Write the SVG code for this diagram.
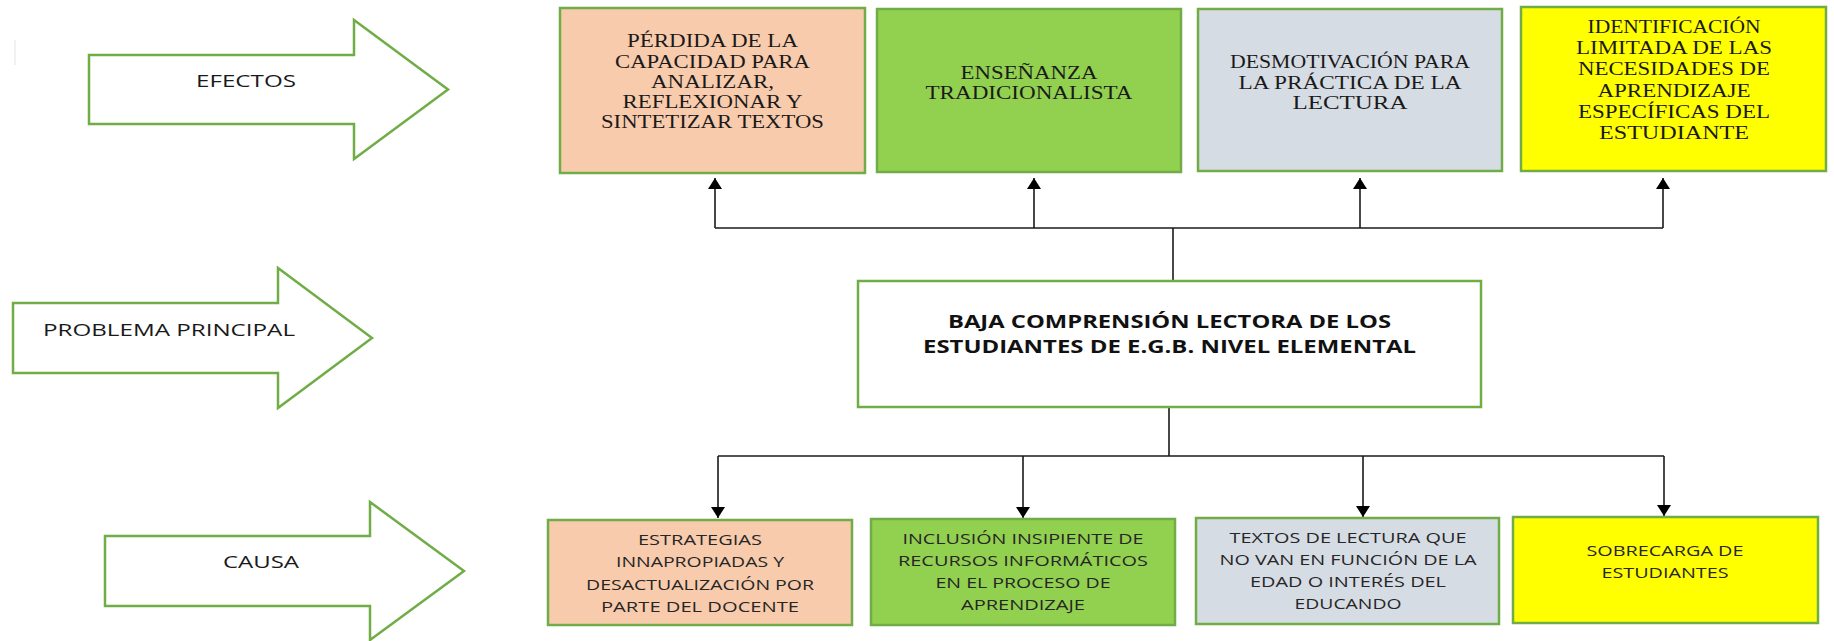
<svg xmlns="http://www.w3.org/2000/svg" width="1834" height="641" viewBox="0 0 1834 641">
<style>
.bg{fill:#ffffff}
.arr{fill:#ffffff;stroke:#70AD47;stroke-width:2.5;stroke-linejoin:miter}
.lbl{font-family:"Open Sans","Liberation Sans",sans-serif;font-size:16.5px;fill:#1a1a1a;text-anchor:middle}
.box{stroke:#70AD47;stroke-width:2.5}
.peach{fill:#F8CBAD}
.green{fill:#92D050}
.grey{fill:#D6DCE4}
.yellow{fill:#FFFF00}
.white{fill:#ffffff}
.ser{font-family:"Liberation Serif","Times New Roman",serif;font-size:18.5px;fill:#1a1a1a;text-anchor:middle}
.san{font-family:"Open Sans","Liberation Sans",sans-serif;font-size:14px;fill:#262626;text-anchor:middle}
.main{font-family:"Open Sans","Liberation Sans",sans-serif;font-size:17.5px;font-weight:bold;fill:#111111;text-anchor:middle}
.con{fill:none;stroke:#1a1a1a;stroke-width:1.6}
</style>
<defs>
<marker id="ah" markerUnits="userSpaceOnUse" viewBox="0 0 11 14" refX="11" refY="7" markerWidth="11" markerHeight="14" orient="auto">
<path d="M0,0 L11,7 L0,14 z" fill="#000000"/>
</marker>
</defs>
<rect class="bg" x="0" y="0" width="1834" height="641"/>
<line x1="15" y1="40" x2="15" y2="65" stroke="#e2e2e2" stroke-width="1"/>

<g id="arrow-efectos">
<polygon class="arr" points="89,55 354,55 354,20 448,89.5 354,159 354,124 89,124"/>
<text class="lbl" x="246" y="87" textLength="100" lengthAdjust="spacingAndGlyphs">EFECTOS</text>
</g>
<g id="arrow-problema">
<polygon class="arr" points="13,303 278,303 278,268 372,338 278,408 278,373 13,373"/>
<text class="lbl" x="169" y="336" textLength="252" lengthAdjust="spacingAndGlyphs">PROBLEMA PRINCIPAL</text>
</g>
<g id="arrow-causa">
<polygon class="arr" points="105,536 370,536 370,502 464,571 370,640 370,606 105,606"/>
<text class="lbl" x="261" y="568" textLength="76" lengthAdjust="spacingAndGlyphs">CAUSA</text>
</g>

<g id="connectors">
<line class="con" x1="715" y1="228" x2="1663" y2="228"/>
<line class="con" x1="1173" y1="228" x2="1173" y2="281"/>
<line class="con" x1="715" y1="228" x2="715" y2="178" marker-end="url(#ah)"/>
<line class="con" x1="1034" y1="228" x2="1034" y2="178" marker-end="url(#ah)"/>
<line class="con" x1="1360" y1="228" x2="1360" y2="178" marker-end="url(#ah)"/>
<line class="con" x1="1663" y1="228" x2="1663" y2="178" marker-end="url(#ah)"/>
<line class="con" x1="1169" y1="407" x2="1169" y2="456"/>
<line class="con" x1="718" y1="456" x2="1664" y2="456"/>
<line class="con" x1="718" y1="456" x2="718" y2="518" marker-end="url(#ah)"/>
<line class="con" x1="1023" y1="456" x2="1023" y2="518" marker-end="url(#ah)"/>
<line class="con" x1="1363" y1="456" x2="1363" y2="517" marker-end="url(#ah)"/>
<line class="con" x1="1664" y1="456" x2="1664" y2="516" marker-end="url(#ah)"/>
</g>

<g id="efecto-1">
<rect class="box peach" x="560" y="8" width="305" height="165"/>
<text class="ser" x="712.5" y="47" textLength="171" lengthAdjust="spacingAndGlyphs">PÉRDIDA DE LA</text>
<text class="ser" x="712.5" y="68" textLength="195" lengthAdjust="spacingAndGlyphs">CAPACIDAD PARA</text>
<text class="ser" x="712.5" y="88" textLength="123" lengthAdjust="spacingAndGlyphs">ANALIZAR,</text>
<text class="ser" x="712.5" y="108" textLength="180" lengthAdjust="spacingAndGlyphs">REFLEXIONAR Y</text>
<text class="ser" x="712.5" y="128" textLength="223" lengthAdjust="spacingAndGlyphs">SINTETIZAR TEXTOS</text>
</g>
<g id="efecto-2">
<rect class="box green" x="877" y="9" width="304" height="163"/>
<text class="ser" x="1029" y="79" textLength="137" lengthAdjust="spacingAndGlyphs">ENSEÑANZA</text>
<text class="ser" x="1029" y="99" textLength="207" lengthAdjust="spacingAndGlyphs">TRADICIONALISTA</text>
</g>
<g id="efecto-3">
<rect class="box grey" x="1198" y="9" width="304" height="162"/>
<text class="ser" x="1350" y="68" textLength="240" lengthAdjust="spacingAndGlyphs">DESMOTIVACIÓN PARA</text>
<text class="ser" x="1350" y="89" textLength="223" lengthAdjust="spacingAndGlyphs">LA PRÁCTICA DE LA</text>
<text class="ser" x="1350" y="109" textLength="115" lengthAdjust="spacingAndGlyphs">LECTURA</text>
</g>
<g id="efecto-4">
<rect class="box yellow" x="1521" y="7" width="305" height="164"/>
<text class="ser" x="1674" y="33" textLength="173" lengthAdjust="spacingAndGlyphs">IDENTIFICACIÓN</text>
<text class="ser" x="1674" y="54" textLength="196" lengthAdjust="spacingAndGlyphs">LIMITADA DE LAS</text>
<text class="ser" x="1674" y="75" textLength="192" lengthAdjust="spacingAndGlyphs">NECESIDADES DE</text>
<text class="ser" x="1674" y="97" textLength="153" lengthAdjust="spacingAndGlyphs">APRENDIZAJE</text>
<text class="ser" x="1674" y="118" textLength="192" lengthAdjust="spacingAndGlyphs">ESPECÍFICAS DEL</text>
<text class="ser" x="1674" y="139" textLength="150" lengthAdjust="spacingAndGlyphs">ESTUDIANTE</text>
</g>

<g id="problema">
<rect class="box white" x="858" y="281" width="623" height="126"/>
<text class="main" x="1169.5" y="328" textLength="443" lengthAdjust="spacingAndGlyphs">BAJA COMPRENSIÓN LECTORA DE LOS</text>
<text class="main" x="1169.5" y="353" textLength="493" lengthAdjust="spacingAndGlyphs">ESTUDIANTES DE E.G.B. NIVEL ELEMENTAL</text>
</g>

<g id="causa-1">
<rect class="box peach" x="548" y="520" width="304" height="105"/>
<text class="san" x="700" y="545" textLength="124" lengthAdjust="spacingAndGlyphs">ESTRATEGIAS</text>
<text class="san" x="700" y="567" textLength="168" lengthAdjust="spacingAndGlyphs">INNAPROPIADAS Y</text>
<text class="san" x="700" y="590" textLength="228" lengthAdjust="spacingAndGlyphs">DESACTUALIZACIÓN POR</text>
<text class="san" x="700" y="612" textLength="198" lengthAdjust="spacingAndGlyphs">PARTE DEL DOCENTE</text>
</g>
<g id="causa-2">
<rect class="box green" x="871" y="519" width="304" height="106"/>
<text class="san" x="1023" y="544" textLength="241" lengthAdjust="spacingAndGlyphs">INCLUSIÓN INSIPIENTE DE</text>
<text class="san" x="1023" y="566" textLength="250" lengthAdjust="spacingAndGlyphs">RECURSOS INFORMÁTICOS</text>
<text class="san" x="1023" y="588" textLength="175" lengthAdjust="spacingAndGlyphs">EN EL PROCESO DE</text>
<text class="san" x="1023" y="610" textLength="124" lengthAdjust="spacingAndGlyphs">APRENDIZAJE</text>
</g>
<g id="causa-3">
<rect class="box grey" x="1196" y="518" width="303" height="106"/>
<text class="san" x="1348" y="543" textLength="237" lengthAdjust="spacingAndGlyphs">TEXTOS DE LECTURA QUE</text>
<text class="san" x="1348" y="565" textLength="257" lengthAdjust="spacingAndGlyphs">NO VAN EN FUNCIÓN DE LA</text>
<text class="san" x="1348" y="587" textLength="196" lengthAdjust="spacingAndGlyphs">EDAD O INTERÉS DEL</text>
<text class="san" x="1348" y="609" textLength="107" lengthAdjust="spacingAndGlyphs">EDUCANDO</text>
</g>
<g id="causa-4">
<rect class="box yellow" x="1513" y="517" width="305" height="106"/>
<text class="san" x="1665" y="556" textLength="157" lengthAdjust="spacingAndGlyphs">SOBRECARGA DE</text>
<text class="san" x="1665" y="578" textLength="127" lengthAdjust="spacingAndGlyphs">ESTUDIANTES</text>
</g>
</svg>
